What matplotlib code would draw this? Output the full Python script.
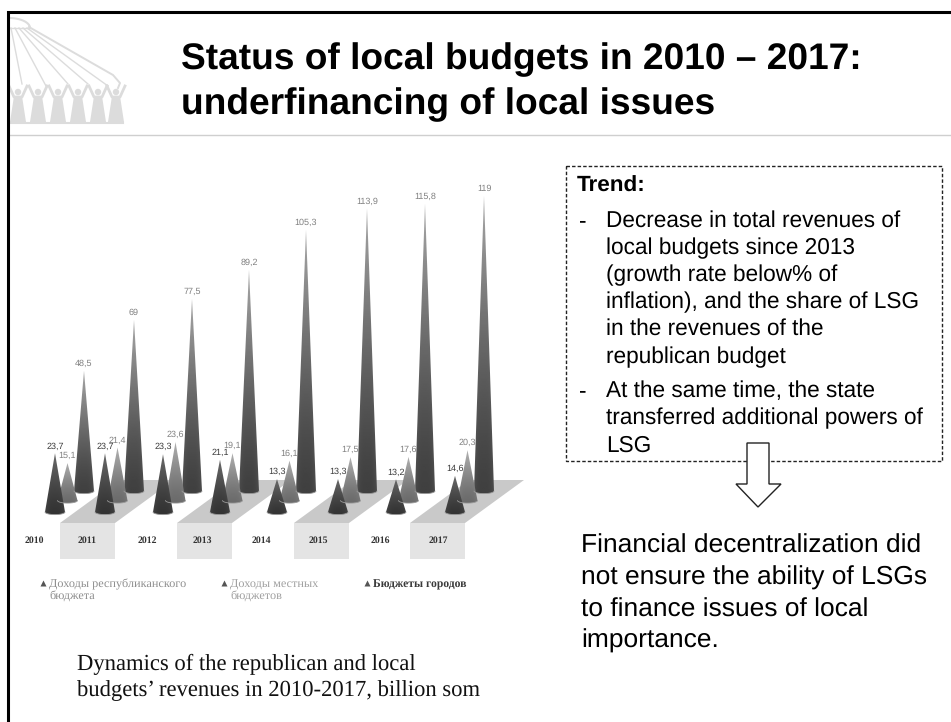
#!/usr/bin/env python3
"""Slide: status of local budgets in 2010-2017, cone chart plus notes."""

import matplotlib
matplotlib.use('Agg')
import matplotlib.pyplot as plt
import numpy as np
from matplotlib.patches import Circle, Polygon, Rectangle

years = ['2010', '2011', '2012', '2013', '2014', '2015', '2016', '2017']
city_budgets = [23.7, 23.7, 23.3, 21.1, 13.3, 13.3, 13.2, 14.6]
local_budgets = [15.1, 21.4, 23.6, 19.1, 16.1, 17.5, 17.6, 20.3]
republican_budget = [48.5, 69, 77.5, 89.2, 105.3, 113.9, 115.8, 119]

title_lines = ['Status of local budgets in 2010 – 2017:', 'underfinancing of local issues']
trend_lines = ['Decrease in total revenues of', 'local budgets since 2013',
               '(growth rate below% of', 'inflation), and the share of LSG',
               'in the revenues of the', 'republican budget']
powers_lines = ['At the same time, the state', 'transferred additional powers of', 'LSG']
summary_lines = ['Financial decentralization did', 'not ensure the ability of LSGs',
                 'to finance issues of local', 'importance.']
caption_lines = ['Dynamics of the republican and local',
                 "budgets’ revenues in 2010-2017, billion som"]

SANS = 'Liberation Sans'
SERIF = 'Liberation Serif'
PX_PER_UNIT = 2.48   # cone height in pixels per billion som
BACK_BASE_PX = 491   # pixel row of value 0 for the back row of cones

plt.rcParams['text.hinting'] = 'none'

fig = plt.figure(figsize=(9.51, 7.22), dpi=100, facecolor='white')

# page axes in pixels, everything except the cones goes here
page = fig.add_axes([0, 0, 1, 1])
page.set_xlim(0, 951)
page.set_ylim(722, 0)
page.axis('off')

# cone axes: x in pixels, y in billion som
chart = fig.add_axes([0, 0, 1, 1], zorder=2)
chart.patch.set_alpha(0)
chart.axis('off')
ylim = ((BACK_BASE_PX - 722) / PX_PER_UNIT, BACK_BASE_PX / PX_PER_UNIT)


def draw_cone(cx, base, value, top_grey, bottom_grey, half_width=10):
    """Cone with a vertical grey gradient and a rounded foot."""
    tip = base + value
    foot = 2.6 / PX_PER_UNIT
    t = np.linspace(0, np.pi, 24)
    outline = [(cx, tip)] + [(cx + half_width * np.cos(a), base - foot * np.sin(a)) for a in t]
    clip = Polygon(outline, closed=True, transform=chart.transData, fc='none', ec='none')
    chart.add_patch(clip)
    rows = np.linspace(0, 1, 160)
    # gradient settles at the bottom colour well before the foot
    grey = bottom_grey + (top_grey - bottom_grey) * (rows ** 1.4)
    shade = np.tile(grey[:, None], (1, 21))
    edge = np.abs(np.linspace(-1, 1, 21))[None, :]
    shade = shade + 0.05 * edge ** 3
    im = chart.imshow(shade, extent=(cx - half_width, cx + half_width, base - foot, tip),
                      origin='lower', cmap='gray', vmin=0, vmax=1, aspect='auto',
                      interpolation='bilinear')
    im.set_clip_path(clip)
    # thin rim along the base
    chart.plot([cx + half_width * np.cos(a) for a in t],
               [base - foot * np.sin(a) for a in t], color='#999999', lw=0.6,
               solid_capstyle='round')


def draw_platform(left, right):
    """Shaded block under a pair of years."""
    shift = 59
    page.add_patch(Polygon([(left, 523), (right, 523), (right + shift, 480), (left + shift, 480)],
                           closed=True, fc='#c9c9c9', ec='none'))
    page.add_patch(Rectangle((left, 523), right - left, 36, fc='#e4e4e4', ec='none'))


def draw_logo():
    """Yurt dome held up by a row of people, in pale grey."""
    grey = '#dcdcdc'
    t = np.linspace(0, np.pi / 2, 20)
    page.plot(9 + 21 * np.sin(t), 28 - 10 * np.cos(t), color=grey, lw=1.5)
    page.plot([9, 30], [28, 28], color=grey, lw=1)
    tops = [(22, 84), (46, 86), (68, 84), (88, 84), (108, 86)]
    for i, (hx, hy) in enumerate(tops):
        page.plot([11 + 4 * i, hx], [28, hy], color=grey, lw=1)
    page.plot([29, 113, 120, 118], [27, 75, 83, 88], color=grey, lw=1.4)
    for cx in [18, 38, 58, 78, 98, 116]:
        page.add_patch(Circle((cx, 92), 3.2, fc=grey, ec='none'))
        page.add_patch(Polygon([(cx - 4, 96), (cx + 4, 96), (cx + 8, 122), (cx - 8, 122)],
                               closed=True, fc=grey, ec='none'))
        page.plot([cx - 9, cx - 4, cx + 4, cx + 9], [86, 97, 97, 86], color=grey, lw=2)
    page.plot([9, 123], [123, 123], color=grey, lw=1.5)


draw_logo()

# slide frame: only the top and left rules are on the page
page.plot([9, 951], [135, 135], color='#cfcfcf', lw=1)
page.plot([7.5, 7.5, 951], [722, 11.5, 11.5], color='black', lw=2.2, solid_joinstyle='miter')

for line, y in zip(title_lines, [69, 114]):
    page.text(181, y, line, fontsize=26.75, fontweight='bold', family=SANS, va='baseline')

for left, right in [(60, 115), (177, 232), (294, 349), (410, 465)]:
    draw_platform(left, right)

front_x = np.array([55, 105, 163, 220, 277, 338, 396, 455])
rows = [
    (front_x + 29, 0, republican_budget, 0.66, 0.25, '#808080'),
    (front_x + 12.5, -9.5 / PX_PER_UNIT, local_budgets, 0.70, 0.42, '#808080'),
    (front_x, -21 / PX_PER_UNIT, city_budgets, 0.42, 0.20, '#3a3a3a'),
]
for xs, base, values, top_grey, bottom_grey, label_color in rows:
    for cx, value in zip(xs, values):
        draw_cone(cx, base, value, top_grey, bottom_grey)
        chart.text(cx, base + value + 3 / PX_PER_UNIT, str(value).replace('.', ','),
                   ha='center', va='bottom', fontsize=6.5, color=label_color, family=SANS)
chart.set_xlim(0, 951)
chart.set_ylim(*ylim)

for label, x in zip(years, [34, 87, 147, 202, 261, 318, 380, 438]):
    page.text(x, 543, label, ha='center', va='baseline', fontsize=7, fontweight='bold',
              color='#333333', family=SERIF)

# legend below the cones
legend_items = [
    (43, ['Доходы республиканского', 'бюджета'], '#8f8f8f', 'normal', 8.8),
    (224, ['Доходы местных', 'бюджетов'], '#a0a0a0', 'normal', 8.8),
    (367, ['Бюджеты городов'], '#3a3a3a', 'bold', 8.4),
]
for x, lines, color, weight, size in legend_items:
    page.plot([x], [583], marker='^', ms=4.5, color='#555555', mec='none')
    for line, y in zip(lines, [587, 599]):
        page.text(x + 6, y, line, fontsize=size, color=color, fontweight=weight, family=SERIF,
                  va='baseline')

for line, y in zip(caption_lines, [670, 696]):
    page.text(77, y, line, fontsize=16.3, family=SERIF, va='baseline', color='#111111')

# dashed trend box
page.add_patch(Rectangle((566, 166), 376, 295, fc='none', ec='#222222', lw=1, ls=(0, (2.5, 1.5))))
page.text(577, 192, 'Trend:', fontsize=16.2, fontweight='bold', family=SANS, va='baseline')
page.text(579, 227, '-', fontsize=16.3, family=SANS, va='baseline')
for line, y in zip(trend_lines, [227, 254, 281, 308, 335, 363]):
    page.text(606, y, line, fontsize=16.3, family=SANS, va='baseline')
page.text(579, 397, '-', fontsize=16.3, family=SANS, va='baseline')
for line, y in zip(powers_lines, [397, 424, 452]):
    page.text(606, y, line, fontsize=16.3, family=SANS, va='baseline')

# outlined down arrow, its white fill breaks the dashed line
page.add_patch(Polygon([(747, 443), (769, 443), (769, 484), (781, 484), (758, 507),
                        (736, 484), (747, 484)], closed=True, fc='white', ec='#222222',
                       lw=1, zorder=3))

for line, y in zip(summary_lines, [553, 585, 617, 648]):
    page.text(581, y, line, fontsize=19, family=SANS, va='baseline')

fig.savefig('out.png', dpi=100)
